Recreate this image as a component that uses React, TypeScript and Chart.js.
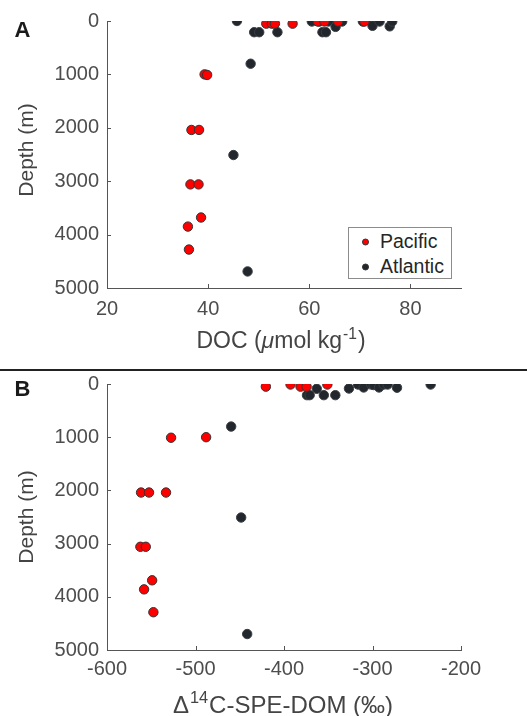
import React, { useEffect, useRef } from "react";
import { Chart, registerables } from "chart.js";

Chart.register(...registerables);

const FONT = "'Liberation Sans', Arial, Helvetica, sans-serif";

// ---- Panel A: DOC (umol/kg) vs depth (m)
const pacificDOC = [51.5, 52.6, 53.2, 56.7, 61.7, 63.0, 65.7, 70.9, 39.3, 39.8, 36.7, 38.2, 36.5, 38.1, 38.6, 36.0, 36.2];
const pacificDOCDepth = [50, 50, 50, 50, 10, 10, 10, 10, 1000, 1010, 2040, 2040, 3060, 3060, 3680, 3850, 4280];
const atlanticDOC = [45.7, 49.1, 50.1, 53.7, 60.5, 62.0, 63.8, 66.5, 62.6, 63.3, 65.2, 70.6, 72.2, 72.5, 73.9, 75.9, 76.4, 48.4, 45.0, 47.8];
const atlanticDOCDepth = [0, 210, 210, 210, 10, 10, 10, 10, 210, 210, 110, 10, 10, 90, 10, 100, 10, 800, 2510, 4690];

// ---- Panel B: D14C-SPE-DOM (permil) vs depth (m)
const pacificD14C = [-420.5, -392.6, -381.3, -374.5, -351.0, -527.6, -488.0, -561.5, -552.5, -533.3, -562.3, -556.2, -549.0, -558.1, -547.6];
const pacificD14CDepth = [50, 10, 50, 50, 10, 1010, 1000, 2040, 2040, 2040, 3060, 3060, 3690, 3860, 4290];
const atlanticD14C = [-374.0, -371.0, -363.0, -355.0, -342.0, -326.6, -316.4, -310.0, -301.4, -298.7, -292.6, -287.4, -282.9, -272.3, -234.3, -459.7, -448.4, -441.6];
const atlanticD14CDepth = [210, 210, 90, 210, 210, 85, 10, 65, 10, 20, 65, 10, 10, 70, 10, 800, 2510, 4700];

// ---- ticks
const docTicks = [20, 40, 60, 80];
const d14cTicks = [-600, -500, -400, -300, -200];
const depthTicks = [0, 1000, 2000, 3000, 4000, 5000];

const seriesNames = ["Pacific", "Atlantic"];
const pacificColor = "#ff0000";
const atlanticColor = "#22272d";

const inwardTicks = {
  id: "inwardTicks",
  afterDraw(chart: any) {
    const { ctx, chartArea } = chart;
    const xs = chart.scales.x;
    const ys = chart.scales.y;
    ctx.save();
    ctx.strokeStyle = "#555555";
    ctx.lineWidth = 1;
    ctx.beginPath();
    xs.ticks.forEach((t: any) => {
      const px = Math.round(xs.getPixelForValue(t.value)) + 0.5;
      ctx.moveTo(px, chartArea.bottom);
      ctx.lineTo(px, chartArea.bottom - 4);
    });
    ys.ticks.forEach((t: any) => {
      const py = Math.round(ys.getPixelForValue(t.value)) + 0.5;
      ctx.moveTo(chartArea.left, py);
      ctx.lineTo(chartArea.left + 4, py);
    });
    ctx.stroke();
    ctx.restore();
  },
};

function buildConfig(p: any): any {
  const toPts = (xs: number[], ys: number[]) => xs.map((x, i) => ({ x, y: ys[i] }));
  const tickFont = { family: FONT, size: 20 };
  return {
    type: "scatter",
    data: {
      datasets: [
        {
          label: seriesNames[0],
          data: toPts(p.pacX, p.pacY),
          backgroundColor: pacificColor,
          borderColor: "#333333",
          borderWidth: 1,
          pointRadius: 4.7,
        },
        {
          label: seriesNames[1],
          data: toPts(p.atlX, p.atlY),
          backgroundColor: atlanticColor,
          borderColor: "#3a3d42",
          borderWidth: 1,
          pointRadius: 4.7,
        },
      ],
    },
    options: {
      animation: false,
      responsive: false,
      maintainAspectRatio: false,
      events: [],
      layout: { padding: { top: p.padTop, right: 66, left: 0, bottom: 0 } },
      plugins: { legend: { display: false }, tooltip: { enabled: false } },
      scales: {
        x: {
          type: "linear",
          min: p.xMin,
          max: p.xMax,
          afterBuildTicks: (s: any) => {
            s.ticks = p.xTicks.map((v: number) => ({ value: v }));
          },
          afterFit: (s: any) => {
            s.height = p.xAxisHeight;
          },
          grid: { display: true, drawOnChartArea: false, drawTicks: false },
          border: { display: true, color: "#555555", width: 1 },
          ticks: {
            padding: p.xTickPad,
            color: "#4d4d4d",
            font: tickFont,
            callback: (v: any) => String(v),
          },
        },
        y: {
          type: "linear",
          reverse: true,
          min: 0,
          max: 5000,
          afterBuildTicks: (s: any) => {
            s.ticks = depthTicks.map((v) => ({ value: v }));
          },
          afterFit: (s: any) => {
            s.width = 107;
          },
          grid: { display: true, drawOnChartArea: false, drawTicks: false },
          border: { display: true, color: "#555555", width: 1 },
          ticks: {
            padding: 8,
            color: "#4d4d4d",
            font: tickFont,
            callback: (v: any) => String(v),
          },
        },
      },
    },
    plugins: [inwardTicks],
  };
}

function Panel({ config, top, height }: { config: any; top: number; height: number }) {
  const ref = useRef<HTMLCanvasElement>(null);
  useEffect(() => {
    const chart = new Chart(ref.current as HTMLCanvasElement, config);
    return () => chart.destroy();
  }, []);
  return (
    <canvas
      ref={ref}
      width={527}
      height={height}
      style={{ position: "absolute", left: 0, top, width: 527, height }}
    />
  );
}

function Label({ cx, cy, size, children, rotate, bold, color }: any) {
  return (
    <div
      style={{
        position: "absolute",
        left: cx,
        top: cy,
        transform: `translate(-50%, -50%)${rotate ? " rotate(-90deg)" : ""}`,
        whiteSpace: "nowrap",
        lineHeight: 1,
        fontFamily: FONT,
        fontSize: size,
        fontWeight: bold ? "bold" : "normal",
        color: color || "#444444",
      }}
    >
      {children}
    </div>
  );
}

const supStyle: any = { fontSize: "0.68em", position: "relative", top: "-0.6em", margin: "0 1px" };

export default function App() {
  const configA = buildConfig({
    pacX: pacificDOC,
    pacY: pacificDOCDepth,
    atlX: atlanticDOC,
    atlY: atlanticDOCDepth,
    xMin: 20,
    xMax: 90,
    xTicks: docTicks,
    padTop: 21,
    xAxisHeight: 76,
    xTickPad: 9,
  });
  const configB = buildConfig({
    pacX: pacificD14C,
    pacY: pacificD14CDepth,
    atlX: atlanticD14C,
    atlY: atlanticD14CDepth,
    xMin: -600,
    xMax: -200,
    xTicks: d14cTicks,
    padTop: 20,
    xAxisHeight: 66,
    xTickPad: 7,
  });

  const dot = (c: string) => (
    <span
      style={{
        position: "absolute",
        left: 13,
        width: 5,
        height: 5,
        borderRadius: "50%",
        background: c,
        border: "0.5px solid #333",
        transform: "translateY(-50%)",
      }}
    />
  );

  return (
    <div
      style={{
        position: "absolute",
        left: 0,
        top: 0,
        width: 527,
        height: 716,
        background: "#ffffff",
        overflow: "hidden",
      }}
    >
      <Panel config={configA} top={0} height={364} />
      <Panel config={configB} top={364} height={352} />

      <div style={{ position: "absolute", left: 0, top: 369, width: 527, height: 2, background: "#222222" }} />

      <Label cx={22.5} cy={29.5} size={22} bold color="#1a1a1a">A</Label>
      <Label cx={22.5} cy={388.5} size={22} bold color="#1a1a1a">B</Label>

      <Label cx={25} cy={150} size={21} rotate>Depth (m)</Label>
      <Label cx={25} cy={517} size={21} rotate>Depth (m)</Label>

      <Label cx={281} cy={340} size={23}>
        DOC (<i>μ</i>mol kg<span style={supStyle}>-1</span>)
      </Label>
      <Label cx={283} cy={705} size={24}>
        Δ<span style={supStyle}>14</span>C-SPE-DOM (‰)
      </Label>

      <div
        style={{
          position: "absolute",
          left: 348,
          top: 227,
          width: 104,
          height: 52,
          boxSizing: "border-box",
          border: "1px solid #8c8c8c",
          background: "#ffffff",
          fontFamily: FONT,
          fontSize: 19.5,
          color: "#262626",
        }}
      >
        <div style={{ position: "absolute", left: 0, top: 14, width: "100%" }}>
          {dot(pacificColor)}
          <span style={{ position: "absolute", left: 31, top: 0, transform: "translateY(-50%)", lineHeight: 1 }}>
            {seriesNames[0]}
          </span>
        </div>
        <div style={{ position: "absolute", left: 0, top: 39, width: "100%" }}>
          {dot(atlanticColor)}
          <span style={{ position: "absolute", left: 31, top: 0, transform: "translateY(-50%)", lineHeight: 1 }}>
            {seriesNames[1]}
          </span>
        </div>
      </div>
    </div>
  );
}
